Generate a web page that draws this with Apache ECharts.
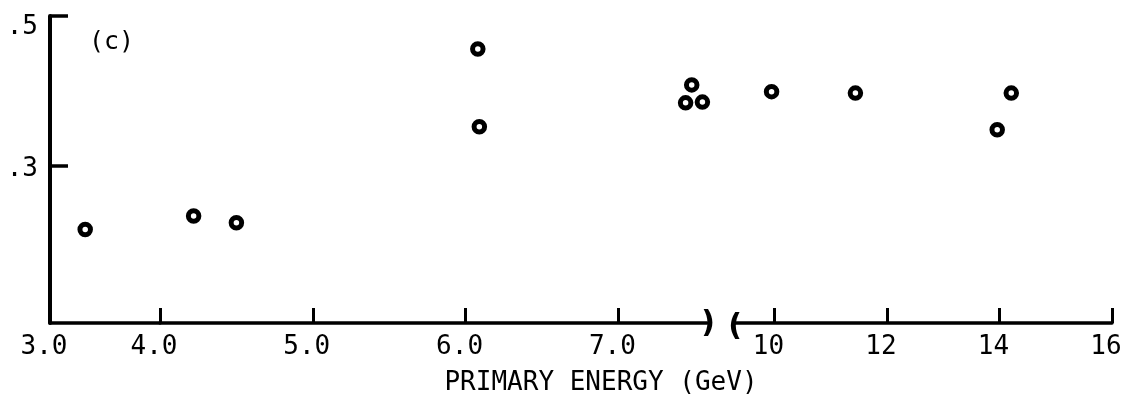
<!DOCTYPE html>
<html>
<head>
<meta charset="utf-8">
<script src="https://cdn.jsdelivr.net/npm/echarts@6/dist/echarts.min.js"></script>
<style>
  html, body { margin: 0; padding: 0; background: #ffffff; }
  #chart { width: 1126px; height: 399px; }
</style>
</head>
<body>
<div id="chart"></div>
<script>
// Ratio vs primary energy, plotted on a broken energy axis (three segments).
const energyLow = [3.32];                       // 3.0 - 4.0 GeV segment
const ratioLow = [0.215];
const energyMid = [4.22, 4.50, 6.08, 6.09, 7.48, 7.44, 7.55];   // 4.0 - 7.6 GeV
const ratioMid = [0.233, 0.224, 0.456, 0.352, 0.408, 0.384, 0.385];
const energyHigh = [9.95, 11.44, 13.96, 14.21];  // 10 - 16 GeV
const ratioHigh = [0.399, 0.397, 0.348, 0.397];

const xTicksLow = [3];
const xTicksMid = [4, 5, 6, 7];
const xTicksHigh = [10, 12, 14, 16];
const yTicks = [0.3, 0.5];

const axisTitle = 'PRIMARY ENERGY (GeV)';
const panelTag = '(c)';

const FONT = '"DejaVu Sans Mono", "Liberation Mono", monospace';
const INK = '#000000';

const Y_MIN = 0.09, Y_MAX = 0.5;

function pairs(xs, ys) { return xs.map((x, i) => [x, ys[i]]); }

const grids = [
  { left: 50, width: 110, top: 16, bottom: 76 },
  { left: 160, width: 547, top: 16, bottom: 76 },
  { left: 735, width: 377, top: 16, bottom: 76 }
];

function xAxisFor(idx, min, max, ticks, fmt) {
  return {
    type: 'value', gridIndex: idx, min: min, max: max,
    axisLine: { show: true, onZero: false, lineStyle: { color: INK, width: 3.5 } },
    axisTick: { show: true, inside: true, length: 15, customValues: ticks,
      lineStyle: { color: INK, width: 3 } },
    axisLabel: { show: true, customValues: ticks, formatter: fmt,
      color: INK, fontFamily: FONT, fontSize: 26, margin: 11,
      padding: [0, 12, 0, 0] },
    splitLine: { show: false }
  };
}

function yAxisFor(idx, visible) {
  return {
    type: 'value', gridIndex: idx, min: Y_MIN, max: Y_MAX,
    show: visible,
    axisLine: { show: visible, lineStyle: { color: INK, width: 4 } },
    axisTick: { show: visible, inside: true, length: 18, customValues: yTicks,
      lineStyle: { color: INK, width: 3.5 } },
    axisLabel: { show: visible, customValues: yTicks, margin: 12,
      formatter: v => (v >= 0.45 ? '{t|.5}' : '{m|.3}'),
      rich: {
        t: { fontFamily: FONT, fontSize: 26, color: INK, padding: [22, 0, 0, 0] },
        m: { fontFamily: FONT, fontSize: 26, color: INK, padding: [6, 0, 0, 0] }
      } },
    splitLine: { show: false }
  };
}

function scatterFor(idx, xs, ys) {
  return {
    type: 'scatter', xAxisIndex: idx, yAxisIndex: idx,
    data: pairs(xs, ys),
    symbol: 'circle', symbolSize: 10.5,
    itemStyle: { color: '#ffffff', borderColor: INK, borderWidth: 5, opacity: 1 },
    silent: true
  };
}

const chart = echarts.init(document.getElementById('chart'), null, { renderer: 'canvas' });

chart.setOption({
  backgroundColor: '#ffffff',
  animation: false,
  grid: grids,
  xAxis: [
    xAxisFor(0, 3, 4, xTicksLow, v => v.toFixed(1)),
    xAxisFor(1, 4, 7.58, xTicksMid, v => v.toFixed(1)),
    xAxisFor(2, 9.3, 16, xTicksHigh, v => String(v))
  ],
  yAxis: [yAxisFor(0, true), yAxisFor(1, false), yAxisFor(2, false)],
  series: [
    scatterFor(0, energyLow, ratioLow),
    scatterFor(1, energyMid, ratioMid),
    scatterFor(2, energyHigh, ratioHigh)
  ],
  graphic: [
    { type: 'text', left: 89, top: 30,
      style: { text: panelTag, fontFamily: FONT, fontSize: 25, fill: INK } },
    { type: 'text', x: 601, y: 383,
      style: { text: axisTitle, fontFamily: FONT, fontSize: 26, fill: INK,
        textAlign: 'center', textVerticalAlign: 'middle' } },
    // break marks on the energy axis
    { type: 'text', x: 708, y: 324,
      style: { text: ')', fontFamily: '"DejaVu Sans"', fontSize: 30, fontWeight: 'bold',
        fill: INK, textAlign: 'center', textVerticalAlign: 'middle' } },
    { type: 'text', x: 735, y: 327,
      style: { text: '(', fontFamily: '"DejaVu Sans"', fontSize: 30, fontWeight: 'bold',
        fill: INK, textAlign: 'center', textVerticalAlign: 'middle' } }
  ]
});
</script>
</body>
</html>
